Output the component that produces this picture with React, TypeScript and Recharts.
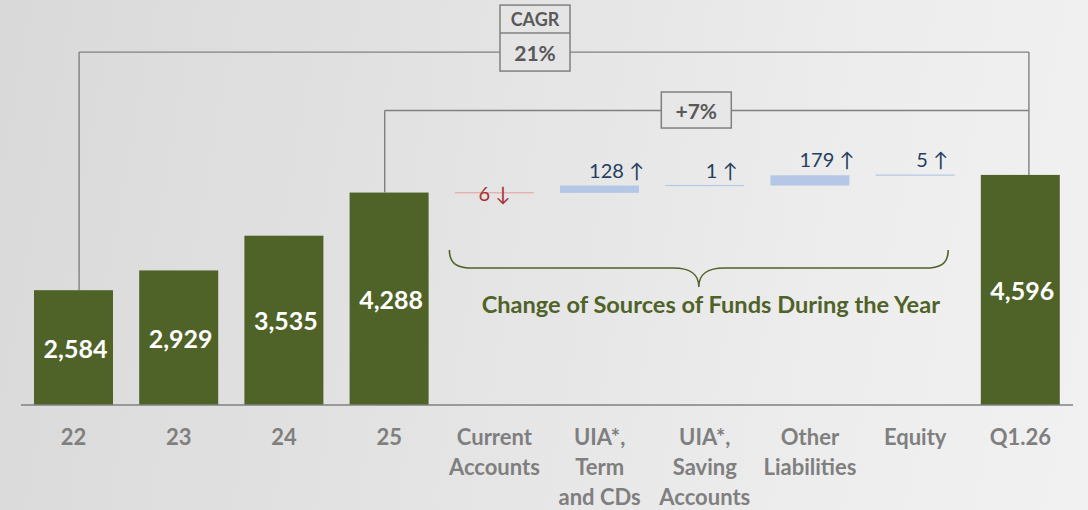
import React from 'react';
import { BarChart, Bar, XAxis, YAxis, LabelList, ReferenceLine } from 'recharts';

// ---------- data ----------
const periods = ['22', '23', '24', '25'];
const periodTotals = [2584, 2929, 3535, 4288];
const changeCategories = [
  'Current\nAccounts',
  'UIA*,\nTerm\nand CDs',
  'UIA*,\nSaving\nAccounts',
  'Other\nLiabilities',
  'Equity',
];
const changeValues = [-6, 128, 1, 179, 5];
const finalCategory = 'Q1.26';
const finalTotal = 4596;
const cagrTitle = 'CAGR';
const cagrText = '21%';
const growthText = '+7%';
const braceTitle = 'Change of Sources of Funds During the Year';

// annotation levels (value units on the hidden y axis)
const CAGR_LEVEL = 6740;
const GROWTH_LEVEL = 5720;
const BRACE_LEVEL = 2970;
const Y_DOMAIN: [number, number] = [580, 7300];

// ---------- styles ----------
const GREEN = '#4f6228';
const BLUE = '#b4c7e7';
const PINK = '#e8a9a9';
const NAVY = '#243f60';
const RED = '#a83232';
const GREY_LINE = '#808080';
const GREY_TEXT = '#7f7f7f';
const FONT = 'Lato, "Open Sans", sans-serif';

type Row = { name: string; range: number | [number, number]; kind: 'total' | 'up' | 'down'; value: number };

const rows: Row[] = [];
periods.forEach((p, i) => rows.push({ name: p, range: periodTotals[i], kind: 'total', value: periodTotals[i] }));
let running = periodTotals[periodTotals.length - 1];
changeCategories.forEach((c, i) => {
  const v = changeValues[i];
  const start = running;
  const end = running + v;
  running = end;
  rows.push({ name: c, range: [Math.min(start, end), Math.max(start, end)], kind: v < 0 ? 'down' : 'up', value: v });
});
rows.push({ name: finalCategory, range: finalTotal, kind: 'total', value: finalTotal });

const fillOf = (k: Row['kind']) => (k === 'total' ? GREEN : k === 'up' ? BLUE : PINK);

const WaterfallShape = (props: any) => {
  const { x, y, width, height, payload } = props;
  const h = Math.abs(height);
  const top = height < 0 ? y + height : y;
  const fill = fillOf(payload.kind);
  if (h < 1.2) {
    const c = top + h / 2;
    return <rect x={x} y={c - 0.6} width={width} height={1.2} fill={fill} />;
  }
  return <rect x={x} y={top} width={width} height={h} fill={fill} />;
};

const renderLabel = (p: any) => {
  const { x, y, width, height, index } = p;
  const row = rows[index];
  if (!row) return null;
  const cx = x + width / 2;
  if (row.kind === 'total') {
    return (
      <text x={cx + 2} y={y + height / 2} textAnchor="middle" dominantBaseline="central" fill="#ffffff"
        fontFamily={FONT} fontWeight={700} fontSize={25}>
        {row.value.toLocaleString('en-US')}
      </text>
    );
  }
  if (row.kind === 'up') {
    return (
      <text x={cx + 17} y={y - 8} textAnchor="middle" fill={NAVY} fontFamily={FONT} fontSize={20}>
        {`${row.value} ↑`}
      </text>
    );
  }
  return (
    <text x={cx} y={y + height / 2} textAnchor="middle" dominantBaseline="central" fill={RED}
      fontFamily={FONT} fontSize={20}>
      {`${Math.abs(row.value)} ↓`}
    </text>
  );
};

const AxisTick = (props: any) => {
  const { x, y, payload } = props;
  const lines = String(payload.value).split('\n');
  return (
    <text x={x} y={y} textAnchor="middle" fill={GREY_TEXT} fontFamily={FONT} fontWeight={700} fontSize={22}>
      {lines.map((l, i) => (
        <tspan key={i} x={x} dy={i === 0 ? 40 : 30}>{l}</tspan>
      ))}
    </text>
  );
};

const Connector = (props: any) => {
  const { x1, y1, x2, y2, dx1 = 0, dx2 = 0 } = props;
  if (x1 == null) return null;
  return <line x1={x1 + dx1} y1={y1} x2={x2 + dx2} y2={y2} stroke={GREY_LINE} strokeWidth={1.4} />;
};

const CagrBox = (props: any) => {
  const vb = props.viewBox || {};
  const cx = vb.x + vb.width / 2 - 12;
  const ly = vb.y;
  const w = 70;
  return (
    <g>
      <rect x={cx - w / 2} y={ly - 47} width={w} height={66} fill="#e5e5e5" stroke={GREY_LINE} strokeWidth={1.5} />
      <line x1={cx - w / 2} x2={cx + w / 2} y1={ly - 19} y2={ly - 19} stroke={GREY_LINE} strokeWidth={1.5} />
      <text x={cx} y={ly - 33} textAnchor="middle" dominantBaseline="central" fill="#595959" fontFamily={FONT} fontWeight={700} fontSize={18}>{cagrTitle}</text>
      <text x={cx} y={ly} textAnchor="middle" dominantBaseline="central" fill="#595959" fontFamily={FONT} fontWeight={700} fontSize={21}>{cagrText}</text>
    </g>
  );
};

const GrowthBox = (props: any) => {
  const vb = props.viewBox || {};
  const cx = vb.x + vb.width / 2 - 8.5;
  const ly = vb.y;
  const w = 70;
  return (
    <g>
      <rect x={cx - w / 2} y={ly - 18.5} width={w} height={36} fill="#e7e7e7" stroke={GREY_LINE} strokeWidth={1.5} />
      <text x={cx} y={ly} textAnchor="middle" dominantBaseline="central" fill="#595959" fontFamily={FONT} fontWeight={700} fontSize={21}>{growthText}</text>
    </g>
  );
};

const BraceShape = (props: any) => {
  const { x1, x2, y1 } = props;
  if (x1 == null) return null;
  const L = x1 - 45;
  const R = x2 + 33;
  const cx = (L + R) / 2;
  const mid = y1;
  const top = mid - 18;
  const tip = mid + 19;
  const d = [
    `M ${L} ${top}`,
    `C ${L} ${mid - 4} ${L + 8} ${mid} ${L + 24} ${mid}`,
    `L ${cx - 26} ${mid}`,
    `C ${cx - 8} ${mid} ${cx} ${mid + 6} ${cx} ${tip}`,
    `C ${cx} ${mid + 6} ${cx + 8} ${mid} ${cx + 26} ${mid}`,
    `L ${R - 24} ${mid}`,
    `C ${R - 8} ${mid} ${R} ${mid - 4} ${R} ${top}`,
  ].join(' ');
  return (
    <g>
      <path d={d} fill="none" stroke={GREEN} strokeWidth={1.6} />
      <text x={cx + 12} y={tip + 26} textAnchor="middle" fill={GREEN} fontFamily={FONT} fontWeight={700} fontSize={23.6}>
        {braceTitle}
      </text>
    </g>
  );
};

const firstName = rows[0].name;
const lastPeriodName = rows[periods.length - 1].name;
const finalName = rows[rows.length - 1].name;
const firstChangeName = rows[periods.length].name;
const lastChangeName = rows[periods.length + changeCategories.length - 1].name;

export default function App() {
  return (
    <div
      style={{
        position: 'absolute',
        left: 0,
        top: 0,
        width: 1088,
        height: 510,
        background: 'linear-gradient(100deg, #d9d9d9 0%, #e3e3e3 40%, #eeeeee 80%, #f1f1f1 100%)',
        overflow: 'hidden',
      }}
    >
      <BarChart width={1088} height={510} data={rows} margin={{ top: 20, right: 15, bottom: 0, left: 21 }} barSize={79}>
        <YAxis hide type="number" domain={Y_DOMAIN} allowDataOverflow />
        <XAxis
          dataKey="name"
          interval={0}
          height={105}
          tickLine={false}
          tickSize={0}
          tickMargin={0}
          axisLine={{ stroke: GREY_LINE, strokeWidth: 1.5 }}
          tick={<AxisTick />}
        />
        {/* CAGR connector */}
        <ReferenceLine ifOverflow="visible"
          segment={[{ x: firstName, y: periodTotals[0] }, { x: firstName, y: CAGR_LEVEL }]}
          shape={<Connector dx1={5.5} dx2={5.5} />} />
        <ReferenceLine ifOverflow="visible"
          segment={[{ x: finalName, y: CAGR_LEVEL }, { x: finalName, y: finalTotal }]}
          shape={<Connector dx1={8.5} dx2={8.5} />} />
        {/* growth connector */}
        <ReferenceLine ifOverflow="visible"
          segment={[{ x: lastPeriodName, y: periodTotals[periodTotals.length - 1] }, { x: lastPeriodName, y: GROWTH_LEVEL }]}
          shape={<Connector dx1={-4.5} dx2={-4.5} />} />
        <ReferenceLine ifOverflow="visible"
          segment={[{ x: lastPeriodName, y: GROWTH_LEVEL }, { x: finalName, y: GROWTH_LEVEL }]}
          shape={<Connector dx1={-4.5} dx2={8.5} />}
          label={<GrowthBox />} />
        <ReferenceLine ifOverflow="visible"
          segment={[{ x: firstName, y: CAGR_LEVEL }, { x: finalName, y: CAGR_LEVEL }]}
          shape={<Connector dx1={5.5} dx2={8.5} />}
          label={<CagrBox />} />
        {/* brace */}
        <ReferenceLine ifOverflow="visible"
          segment={[{ x: firstChangeName, y: BRACE_LEVEL }, { x: lastChangeName, y: BRACE_LEVEL }]}
          shape={<BraceShape />} />
        <Bar dataKey="range" isAnimationActive={false} shape={<WaterfallShape />}>
          <LabelList dataKey="range" content={renderLabel} />
        </Bar>
      </BarChart>
    </div>
  );
}
